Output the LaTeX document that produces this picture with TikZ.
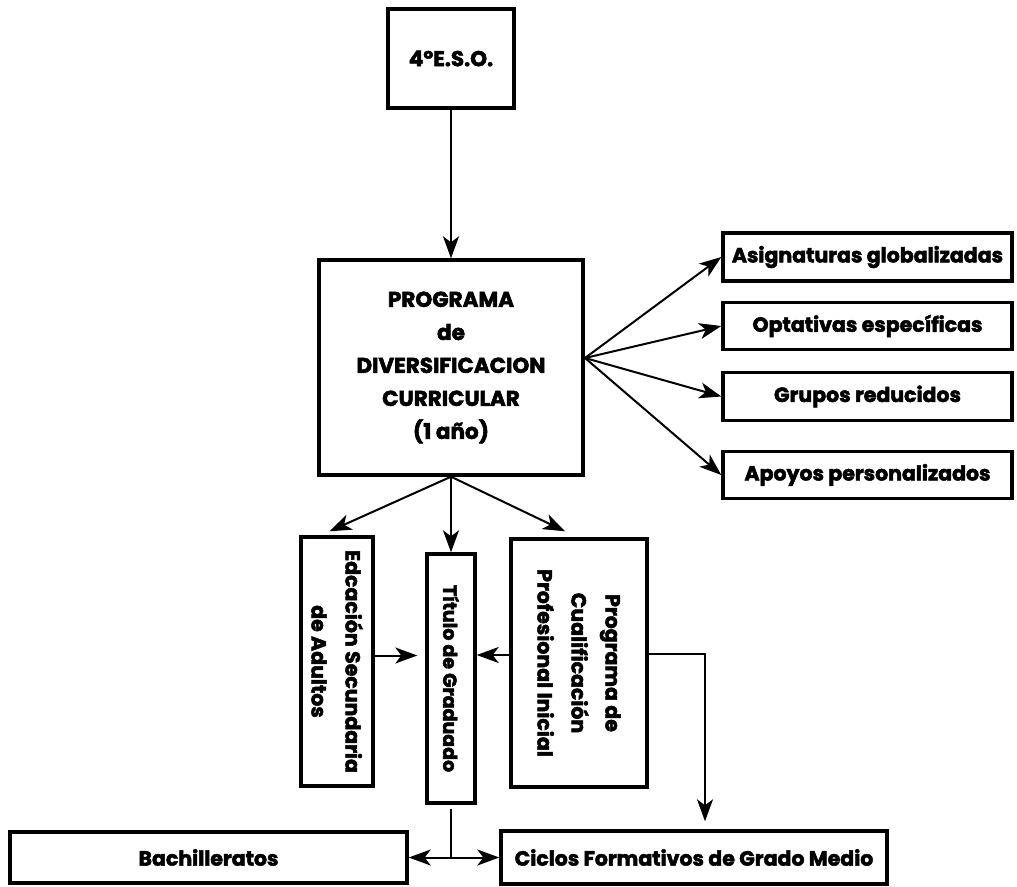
\documentclass[tikz,border=0pt]{standalone}
\usepackage{fontspec}
\setmainfont{Poppins}[BoldFeatures={FakeBold=2.4}]
\usetikzlibrary{arrows.meta,calc}
\begin{document}
\begin{tikzpicture}[x=1pt,y=-1pt,
  >={Stealth[length=22pt,width=16pt,inset=6pt]},
  box/.style={draw=black, line width=3.4pt, inner sep=0pt, align=center},
  arr/.style={line width=2pt, ->},
  link/.style={line width=2pt},
  big/.style={font=\bfseries\fontsize{21.5}{33}\selectfont},
  side/.style={font=\bfseries\fontsize{20.5}{22}\selectfont},
  vert/.style={rotate=-90, align=center, font=\bfseries\fontsize{20.5}{34}\selectfont},
  low/.style={font=\bfseries\fontsize{20.5}{22}\selectfont}]
\useasboundingbox (0,0) rectangle (1017,886);
% boxes
\node[box, big, minimum width=126, minimum height=99] (eso) at (451,58.5) {4ºE.S.O.};
\node[box, big, minimum width=264, minimum height=215] (prog) at (451,367.5)
  {PROGRAMA\\de\\DIVERSIFICACION\\CURRICULAR\\(1 año)};
\node[box, side, minimum width=289, minimum height=48] (asig) at (867.5,257) {Asignaturas globalizadas};
\node[box, side, minimum width=289, minimum height=47] (opt) at (867.5,326) {Optativas específicas};
\node[box, side, minimum width=289, minimum height=48] (grup) at (867.5,396.5) {Grupos reducidos};
\node[box, side, minimum width=289, minimum height=47] (apoy) at (867.5,475) {Apoyos personalizados};
\node[box, minimum width=72, minimum height=249] (edc) at (337,661.5) {};
\node[vert] (edct) at (edc.center) {Edcación Secundaria\\de Adultos};
\node[box, minimum width=48, minimum height=249] (tit) at (451,678.5) {};
\node[vert, font=\bfseries\fontsize{19}{34}\selectfont] (titt) at (tit.center) {Título de Graduado};
\node[box, minimum width=136, minimum height=248] (pcpi) at (579,663) {};
\node[vert] (pcpit) at (pcpi.center) {Programa de\\Cualificación\\Profesional Inicial};
\node[box, low, minimum width=397, minimum height=51] (bach) at (208.5,857.5) {Bachilleratos};
\node[box, low, minimum width=386, minimum height=53] (cic) at (694,857.5) {Ciclos Formativos de Grado Medio};
% connectors
\draw[arr] (eso.south) -- (prog.north);
\coordinate (pe) at (585,358);
\foreach \n in {asig,opt,grup,apoy} \draw[arr] (pe) -- (\n.west);
\draw[arr] (prog.south) -- ($(edc.north west)!0.4!(edc.north east)+(0,-4)$);
\draw[arr] (prog.south) -- (tit.north);
\draw[arr] (prog.south) -- ($(pcpi.north west)!0.4!(pcpi.north east)+(0,-6)$);
\draw[arr, shorten >=8pt] ([yshift=6pt]edc.east) -- ([yshift=6pt]edc.east -| tit.west);
\draw[arr] ([yshift=8pt]pcpi.west) -- ([yshift=8pt]pcpi.west -| tit.east);
\draw[arr, shorten >=8pt] ([yshift=9pt]pcpi.east) -| ([xshift=11pt]cic.north);
\coordinate (sp) at (tit.south |- bach.east);
\draw[link, shorten <=4pt] (tit.south) -- (sp);
\draw[arr, <->] (bach.east) -- (cic.west);
\end{tikzpicture}
\end{document}
